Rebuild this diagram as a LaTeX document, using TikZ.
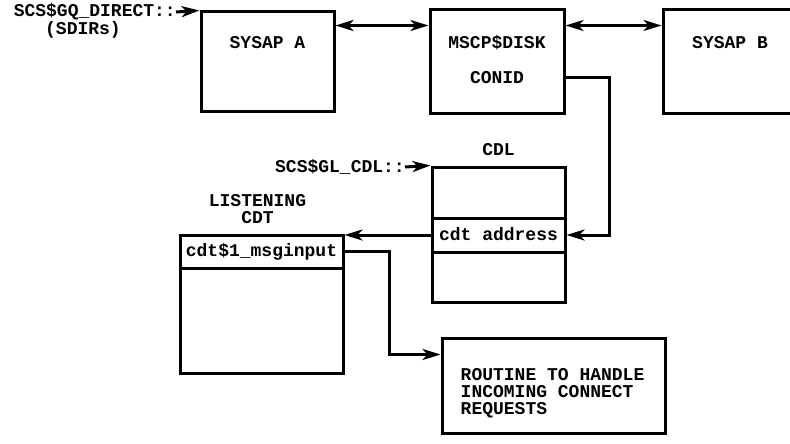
\documentclass[tikz,border=0pt]{standalone}
\usepackage{fontspec}
\setmainfont{Liberation Mono}
\usetikzlibrary{positioning,arrows.meta}
\tikzset{
  box/.style={draw,line width=3pt,inner sep=0pt},
  txt/.style={inner sep=0pt,font=\fontsize{18}{16.7}\selectfont\bfseries},
  lbl/.style={txt,text height=10pt,text depth=0pt},
  arr/.style={line width=3pt,-{Stealth[length=18pt,width=11pt,inset=5pt]}},
  dbl/.style={line width=3pt,{Stealth[length=18pt,width=11pt,inset=5pt]}-{Stealth[length=18pt,width=11pt,inset=5pt]}}
}
\begin{document}
\begin{tikzpicture}[x=1pt,y=-1pt]
  \clip (0,0) rectangle (790,444);
  % top row
  \node[box,minimum width=133pt,minimum height=99pt] (sysapA) at (267.5,61.5) {};
  \node[box,minimum width=134pt,minimum height=103pt] (mscp) at (497,61.5) {};
  \node[box,minimum width=150pt,minimum height=103pt] (sysapB) at (738,61.5) {};
  \node[lbl] at ([yshift=-33pt]sysapA.north) {SYSAP A};
  \node[lbl] at ([yshift=-35pt]mscp.north) {MSCP\$DISK};
  \node[lbl] at ([yshift=-70pt]mscp.north) {CONID};
  \node[lbl] at ([xshift=-8pt,yshift=-35pt]sysapB.north) {SYSAP B};
  \node[lbl,anchor=east] (gq) at (176,12) {SCS\$GQ\_DIRECT::};
  \node[lbl] (sdirs) at (83,30) {(SDIRs)};
  \draw[arr] (gq.east) -- (sysapA.north west);
  \draw[dbl] ([yshift=-15pt]sysapA.north east) -- ([yshift=-15pt]sysapA.north east -| mscp.west);
  \draw[dbl] ([yshift=-17pt]mscp.north east) -- ([yshift=-17pt]mscp.north east -| sysapB.west);
  % connection descriptor list
  \node[box,minimum width=133pt,minimum height=135pt] (cdl) at (498.5,234.5) {};
  \node[box,minimum width=133pt,minimum height=34pt] (addr) at (498.5,235) {};
  \node[lbl] at (addr) {cdt address};
  \node[lbl,above=10pt of cdl.north] {CDL};
  \node[lbl,anchor=east] (gl) at (405,167) {SCS\$GL\_CDL::};
  \draw[arr] (gl.east) -- (cdl.north west);
  \draw[arr] ([yshift=-69pt]mscp.north east) -- ++(44,0) |- (addr.east);
  % listening cdt
  \node[box,minimum width=163pt,minimum height=138pt] (cdt) at (261.5,304) {};
  \node[box,minimum width=163pt,minimum height=33pt] (msg) at (261.5,251.5) {};
  \node[lbl] at (msg) {cdt\$1\_msginput};
  \node[txt,align=center,above=10pt of cdt.north,xshift=-4pt] {LISTENING\\CDT};
  \draw[arr] (addr.west) -- (addr.west -| cdt.east);
  % routine
  \node[box,minimum width=223pt,minimum height=95pt] (routine) at (553.5,385.5) {};
  \node[txt,align=left,anchor=north west] at ([xshift=20pt,yshift=-32pt]routine.north west) {ROUTINE TO HANDLE\\INCOMING CONNECT\\REQUESTS};
  \draw[arr] (msg.east) -- ++(45,0) |- ([yshift=-18pt]routine.north west);
\end{tikzpicture}
\end{document}
